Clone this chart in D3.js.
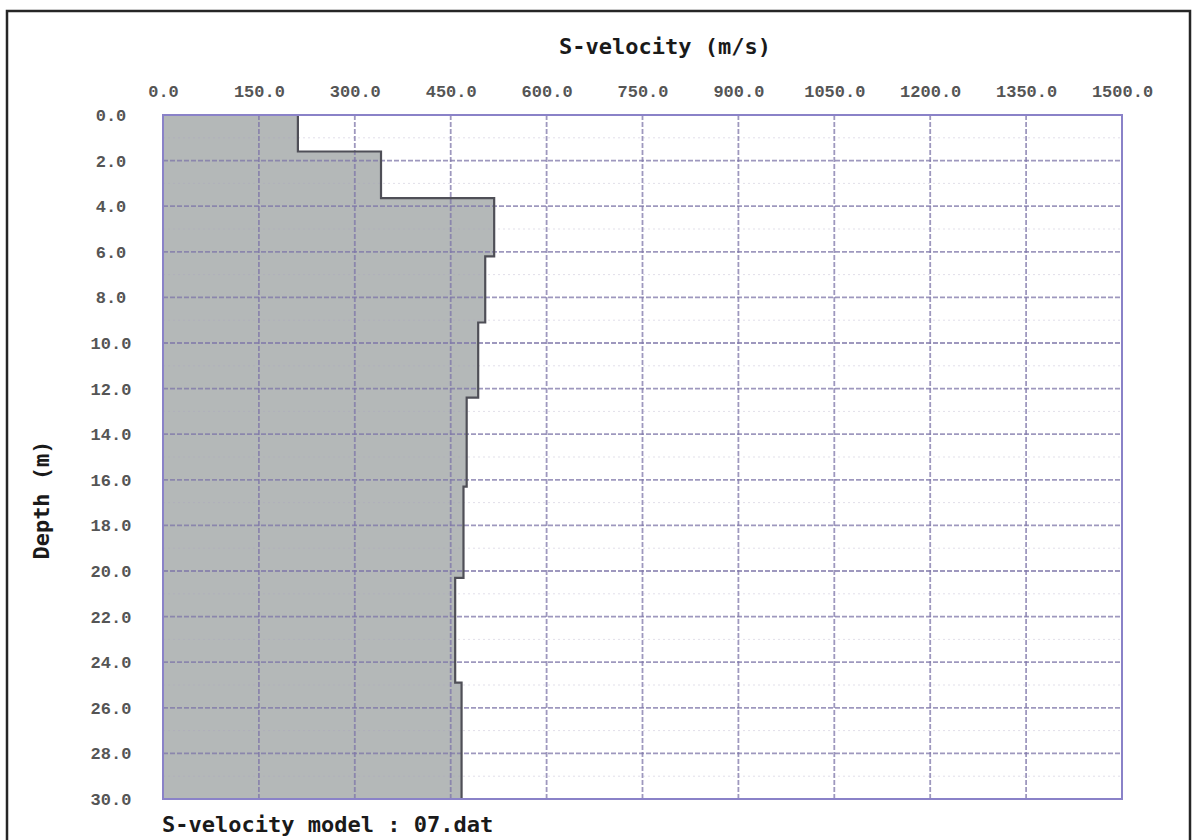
<!DOCTYPE html>
<html>
<head>
<meta charset="utf-8">
<script src="https://cdn.jsdelivr.net/npm/d3@7"></script>
<style>
  html, body { margin: 0; padding: 0; background: #fff; }
  svg { display: block; }
</style>
</head>
<body>
<svg id="chart" width="1194" height="840"></svg>
<script>
// Layer model: top depth of each layer (m) and its S-wave velocity (m/s)
const layerTops = [0, 1.6, 3.65, 6.2, 9.1, 12.4, 16.3, 20.3, 24.9];
const layerVelocities = [211, 341, 518, 504, 493, 475, 470, 457, 467];
const maxDepth = 30;

// Axis tick values
const velocityTicks = [0, 150, 300, 450, 600, 750, 900, 1050, 1200, 1350, 1500];
const depthTicks = [0, 2, 4, 6, 8, 10, 12, 14, 16, 18, 20, 22, 24, 26, 28, 30];
const depthMinorTicks = [1, 3, 5, 7, 9, 11, 13, 15, 17, 19, 21, 23, 25, 27, 29];

const svg = d3.select("#chart");

const x = d3.scaleLinear().domain([0, 1500]).range([163, 1122]);
const y = d3.scaleLinear().domain([0, maxDepth]).range([115, 799]);

// outer frame
svg.append("rect")
  .attr("x", 7).attr("y", 11)
  .attr("width", 1183).attr("height", 845)
  .attr("fill", "#fff")
  .attr("stroke", "#262626").attr("stroke-width", 2.5);

// build stepped profile points from the layer arrays
const profile = [];
layerTops.forEach((top, i) => {
  const bottom = i < layerTops.length - 1 ? layerTops[i + 1] : maxDepth;
  profile.push([layerVelocities[i], top]);
  profile.push([layerVelocities[i], bottom]);
});

// filled area between zero velocity and the profile
const area = d3.area()
  .x0(x(0))
  .x1(d => x(d[0]))
  .y(d => y(d[1]));

svg.append("path")
  .datum(profile)
  .attr("d", area)
  .attr("fill", "#b4b8b8");

// grid
const grid = svg.append("g");
grid.selectAll(".hminor")
  .data(depthMinorTicks)
  .join("line")
  .attr("x1", x(0)).attr("x2", x(1500))
  .attr("y1", d => y(d)).attr("y2", d => y(d))
  .attr("stroke", "#a8a0c0")
  .attr("stroke-opacity", 0.35)
  .attr("stroke-width", 1)
  .attr("stroke-dasharray", "2,3");

grid.selectAll(".vline")
  .data(velocityTicks.slice(1, -1))
  .join("line")
  .attr("x1", d => x(d)).attr("x2", d => x(d))
  .attr("y1", y(0)).attr("y2", y(maxDepth))
  .attr("stroke", "#7d76a8")
  .attr("stroke-opacity", 0.75)
  .attr("stroke-width", 1.8)
  .attr("stroke-dasharray", "5,2");

grid.selectAll(".hline")
  .data(depthTicks.slice(1, -1))
  .join("line")
  .attr("x1", x(0)).attr("x2", x(1500))
  .attr("y1", d => y(d)).attr("y2", d => y(d))
  .attr("stroke", "#7d76a8")
  .attr("stroke-opacity", 0.75)
  .attr("stroke-width", 1.8)
  .attr("stroke-dasharray", "5,2");

// profile outline (right edge and steps)
const line = d3.line().x(d => x(d[0])).y(d => y(d[1]));
svg.append("path")
  .datum(profile)
  .attr("d", line)
  .attr("fill", "none")
  .attr("stroke", "#4f4f57")
  .attr("stroke-width", 2.2);

// plot frame
svg.append("rect")
  .attr("x", x(0)).attr("y", y(0))
  .attr("width", x(1500) - x(0)).attr("height", y(maxDepth) - y(0))
  .attr("fill", "none")
  .attr("stroke", "#8a82c8")
  .attr("stroke-width", 2);

const tickFont = "'Liberation Mono', 'DejaVu Sans Mono', monospace";

// velocity axis on top
const xAxis = d3.axisTop(x)
  .tickValues(velocityTicks)
  .tickFormat(d3.format(".1f"))
  .tickSize(0)
  .tickPadding(18);
const gx = svg.append("g").attr("transform", `translate(0,${y(0)})`).call(xAxis);
gx.select(".domain").remove();
gx.selectAll("text")
  .attr("font-family", tickFont)
  .attr("font-size", 17)
  .attr("font-weight", "bold")
  .attr("fill", "#555");

// depth axis on the left
const yAxis = d3.axisLeft(y)
  .tickValues(depthTicks)
  .tickFormat(d3.format(".1f"))
  .tickSize(0);
const gy = svg.append("g").attr("transform", `translate(${x(0)},0)`).call(yAxis);
gy.select(".domain").remove();
gy.selectAll("text")
  .attr("text-anchor", "middle")
  .attr("x", -52)
  .attr("font-family", tickFont)
  .attr("font-size", 17)
  .attr("font-weight", "bold")
  .attr("fill", "#555");

// titles
const titleFont = "'DejaVu Sans Mono', 'Liberation Mono', monospace";
svg.append("text")
  .attr("x", 665).attr("y", 54)
  .attr("text-anchor", "middle")
  .attr("font-family", titleFont)
  .attr("font-weight", "bold")
  .attr("font-size", 22)
  .attr("fill", "#1a1a1a")
  .text("S-velocity (m/s)");

svg.append("text")
  .attr("transform", "translate(49,500) rotate(-90)")
  .attr("text-anchor", "middle")
  .attr("font-family", titleFont)
  .attr("font-weight", "bold")
  .attr("font-size", 22)
  .attr("fill", "#1a1a1a")
  .text("Depth (m)");

svg.append("text")
  .attr("x", 162).attr("y", 832)
  .attr("font-family", titleFont)
  .attr("font-weight", "bold")
  .attr("font-size", 22)
  .attr("fill", "#1a1a1a")
  .text("S-velocity model : 07.dat");
</script>
</body>
</html>
